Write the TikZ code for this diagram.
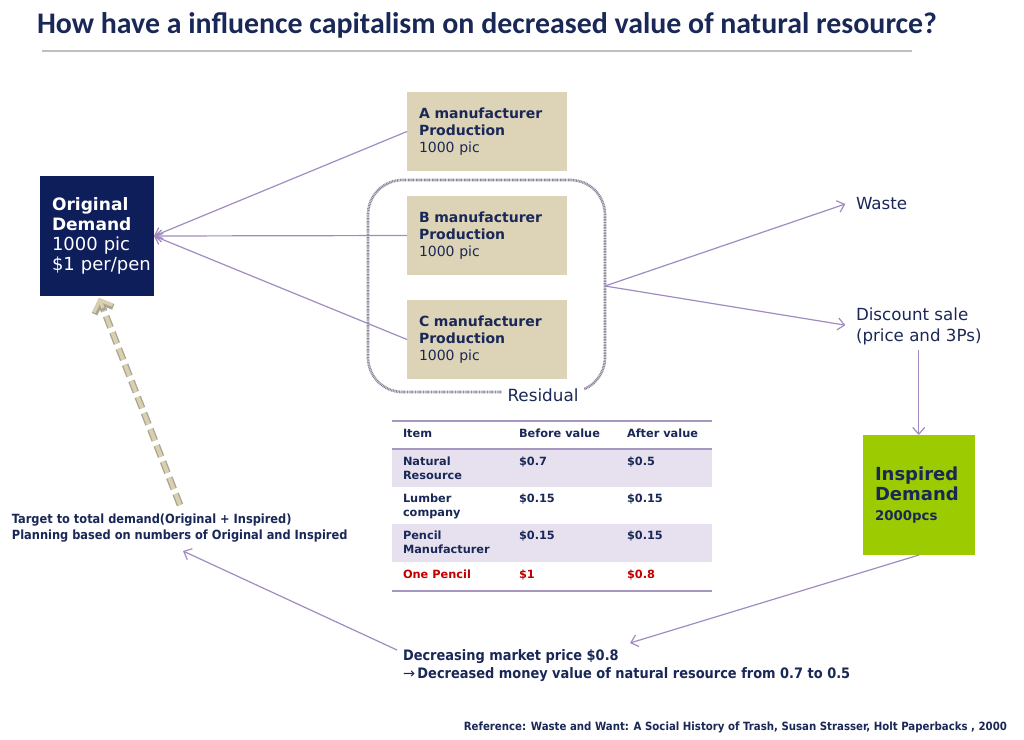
\documentclass[tikz,border=0pt]{standalone}
\usepackage{fontspec}
\setmainfont{DejaVu Sans}
\newfontfamily\titlefont{Carlito}
\newfontfamily\condfont{DejaVu Sans Condensed}
\usetikzlibrary{arrows.meta,fit,calc}
\definecolor{navybox}{HTML}{0E1E5B}
\definecolor{navytxt}{HTML}{1A2857}
\definecolor{tanbox}{HTML}{DDD3B6}
\definecolor{greenbox}{HTML}{9BCB00}
\definecolor{arrowpurple}{HTML}{A08CC0}
\definecolor{rowshade}{HTML}{E7E1EF}
\definecolor{tabline}{HTML}{A597BF}
\definecolor{dotborder}{HTML}{8C8498}
\definecolor{redtxt}{HTML}{C00000}
\definecolor{dashtan}{HTML}{D9D0AE}
\definecolor{dashedge}{HTML}{A9A596}
\begin{document}
\begin{tikzpicture}[x=0.75pt,y=-0.75pt,
  every node/.style={inner sep=0pt, outer sep=0pt},
  mfgbox/.style={fill=tanbox, minimum width=120pt, minimum height=59.25pt, text width=102pt, inner xsep=9pt, align=left, text=navytxt, font=\bfseries\fontsize{10.5}{12.75}\selectfont, anchor=north west},
  flowarrow/.style={draw=arrowpurple, line width=0.9pt, -{Straight Barb[length=5pt,width=9pt]}},
  tabtxt/.style={anchor=north west, align=left, text=navytxt, font=\bfseries\fontsize{8.5}{10.5}\selectfont},
  plaintxt/.style={anchor=west, align=left, text=navytxt, font=\fontsize{12.5}{15.75}\selectfont}
]
\useasboundingbox (0,0) rectangle (1024,739);
\fill[white] (0,0) rectangle (1024,739);

% title
\node[anchor=west, text=navytxt, font=\titlefont\bfseries\fontsize{22.4}{26}\selectfont] (title) at (37,25) {How have a influence capitalism on decreased value of natural resource?};
\draw[gray!50, line width=1.2pt] (42,51) -- (912,51);

% original demand
\node[fill=navybox, minimum width=85.5pt, minimum height=90pt, text width=67.5pt, inner xsep=9pt, align=left, text=white, anchor=north west, font=\fontsize{13.5}{15}\selectfont] (orig) at (40,176) {{\bfseries\fontsize{12.8}{15}\selectfont Original\\Demand}\\\mbox{1000 pic}\\\mbox{\$1 per/pen}};

% manufacturers
\node[mfgbox] (A) at (407,92) {A manufacturer\\Production\\\mdseries 1000 pic};
\node[mfgbox] (B) at (407,196) {B manufacturer\\Production\\\mdseries 1000 pic};
\node[mfgbox] (C) at (407,300) {C manufacturer\\Production\\\mdseries 1000 pic};

% residual group
\coordinate (g1) at (368,180);
\coordinate (g2) at (605,392);
\node[fit=(g1)(g2), inner sep=0pt] (grp) {};
\draw[dotborder, line width=2pt, dash pattern=on 0.7pt off 0.5pt, rounded corners=26pt] (g1) rectangle (g2);
\node[fill=white, inner xsep=4pt, inner ysep=3pt, text=navytxt, font=\fontsize{12.6}{14}\selectfont] (resid) at (543,395) {Residual};

% arrows to original
\draw[flowarrow] (A.west) -- (orig.east);
\draw[flowarrow] (B.west) -- (orig.east);
\draw[flowarrow] (C.west) -- (orig.east);

% waste / discount
\node[plaintxt] (waste) at (856,204) {Waste};
\node[plaintxt] (disc) at (856,326.5) {Discount sale\\(price and 3Ps)};
\draw[flowarrow] (grp.east) -- ([xshift=-8pt]waste.west);
\draw[flowarrow] (grp.east) -- ([xshift=-8pt,yshift=1pt]disc.west);

% inspired demand
\node[fill=greenbox, minimum width=84pt, minimum height=90pt, text width=66pt, inner xsep=9pt, align=left, text=navytxt, anchor=north west, font=\bfseries\fontsize{13.5}{15}\selectfont] (insp) at (863,435) {Inspired\\Demand\\\fontsize{10}{13}\selectfont 2000pcs};
\draw[flowarrow] ([yshift=-4pt]disc.south) -- (disc.south |- insp.north);

% decreasing text
\node[anchor=west, align=left, text=navytxt, font=\condfont\bfseries\fontsize{10.8}{13.5}\selectfont] (dec) at (403,666) {Decreasing market price \$0.8\\{\fontspec{DejaVu Sans}\mdseries →}\,Decreased money value of natural resource from 0.7 to 0.5};
\coordinate (decin) at (630,643);
\draw[flowarrow] (insp.south) -- (decin);

% target text
\node[anchor=west, align=left, text=navytxt, font=\condfont\bfseries\fontsize{9.5}{12}\selectfont] (target) at (12,528) {Target to total demand(Original + Inspired)\\Planning based on numbers of Original and Inspired};
\coordinate (decout) at (397,650);
\coordinate (tgtin) at (183,551);
\draw[flowarrow] (decout) -- (tgtin);

% dashed feedback arrow
\coordinate (dstart) at (180,505);
\coordinate (dend) at (99,298);
\draw[dashedge, line width=5pt, dash pattern=on 9pt off 4pt, shorten >=3pt] (dstart) -- (dend);
\draw[dashtan, line width=3pt, dash pattern=on 9pt off 4pt, shorten >=3pt] (dstart) -- (dend);
\draw[dashedge, line width=4.5pt, line cap=round, shorten >=0pt, -{Straight Barb[length=7pt,width=15pt,line width=4.5pt]}] ($(dend)!8pt!(dstart)$) -- (dend);
\draw[dashtan, line width=2.5pt, shorten >=0pt, -{Straight Barb[length=7pt,width=15pt,line width=2.5pt]}] ($(dend)!8pt!(dstart)$) -- (dend);

% table
\fill[rowshade] (392,449) rectangle (712,487);
\fill[rowshade] (392,524) rectangle (712,562);
\draw[tabline, line width=1.2pt] (392,421) -- (712,421);
\draw[tabline, line width=1.6pt] (392,449) -- (712,449);
\draw[tabline, line width=1.2pt] (392,591) -- (712,591);
\node[tabtxt] (h1) at (403,429) {Item};
\node[tabtxt] (h2) at (519,429) {Before value};
\node[tabtxt] (h3) at (627,429) {After value};
\node[tabtxt] (r1a) at (403,457) {Natural\\Resource};
\node[tabtxt] (r1b) at (519,457) {\$0.7};
\node[tabtxt] (r1c) at (627,457) {\$0.5};
\node[tabtxt] (r2a) at (403,494) {Lumber\\company};
\node[tabtxt] (r2b) at (519,494) {\$0.15};
\node[tabtxt] (r2c) at (627,494) {\$0.15};
\node[tabtxt] (r3a) at (403,531) {Pencil\\Manufacturer};
\node[tabtxt] (r3b) at (519,531) {\$0.15};
\node[tabtxt] (r3c) at (627,531) {\$0.15};
\node[tabtxt, text=redtxt] (r4a) at (403,570) {One Pencil};
\node[tabtxt, text=redtxt] (r4b) at (519,570) {\$1};
\node[tabtxt, text=redtxt] (r4c) at (627,570) {\$0.8};

% reference
\node[anchor=east, text=navytxt, font=\condfont\bfseries\fontsize{8.5}{10}\selectfont] (ref) at (1007,727) {Reference: Waste and Want: A Social History of Trash, Susan Strasser, Holt Paperbacks , 2000};
\end{tikzpicture}
\end{document}
